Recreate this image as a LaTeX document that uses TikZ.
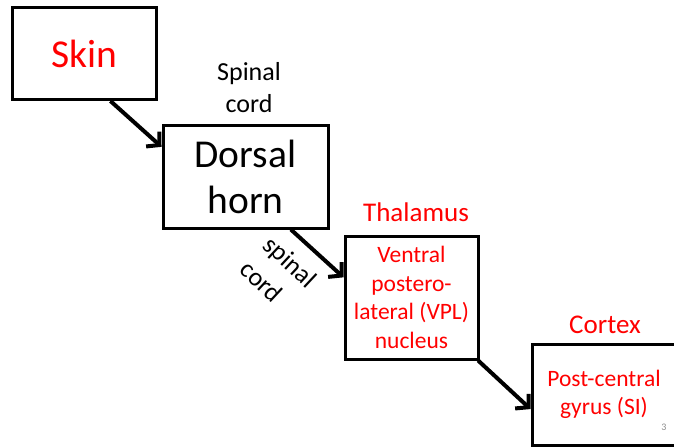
\documentclass[tikz,border=0pt]{standalone}
\usepackage{fontspec}
\setmainfont{Carlito}
\usetikzlibrary{arrows.meta,calc}
\definecolor{pptred}{RGB}{255,0,0}
\tikzset{
  box/.style={draw=black, line width=3pt, rectangle, inner sep=0pt, align=center},
  conn/.style={line width=4pt, -{Straight Barb[length=9pt,width=20pt,line width=4pt]}},
  lbl/.style={inner sep=0pt, align=center}
}
\begin{document}
\begin{tikzpicture}[x=1pt,y=-1pt]
\useasboundingbox (0,0) rectangle (674,447);
\clip (0,0) rectangle (674,447);
% boxes
\node[box, minimum width=144pt, minimum height=92pt, text=pptred, font=\fontsize{39.5}{46}\selectfont] (skin) at (84,53.5) {Skin};
\node[box, minimum width=165pt, minimum height=103pt, font=\fontsize{39.5}{46}\selectfont] (dorsal) at (245.5,176.5) {Dorsal\\horn};
\node[box, minimum width=133pt, minimum height=123pt, text=pptred, font=\fontsize{23.5}{28.5}\selectfont] (vpl) at (411.5,297.5) {Ventral\\postero-\\lateral (VPL)\\nucleus};
\node[box, minimum width=144pt, minimum height=101pt, text=pptred, font=\fontsize{23.5}{28.5}\selectfont] (cortex) at (604,394.5) {Post-central\\gyrus (SI)};
% labels
\node[lbl, font=\fontsize{26}{32}\selectfont] (sc1) at (249,88) {Spinal\\cord};
\node[lbl, text=pptred, font=\fontsize{27}{32}\selectfont] (thal) at (416,212) {Thalamus};
\node[lbl, text=pptred, font=\fontsize{27}{32}\selectfont] (ctx) at (605,325) {Cortex};
\node[lbl, align=left, rotate=-43, font=\fontsize{26}{34}\selectfont] (sc2) at (279,274) {spinal\\cord};
\node[lbl, text=black!45, font=\fontsize{10}{12}\selectfont] (pg) at (664,427) {3};
% connectors
\coordinate (a1) at ($(skin.south west)!0.68!(skin.south east)$);
\coordinate (b1) at ($(dorsal.north west)!0.22!(dorsal.south west)$);
\coordinate (a2) at ($(dorsal.south west)!0.77!(dorsal.south east)$);
\coordinate (b2) at ($(vpl.north west)!0.34!(vpl.south west)$);
\coordinate (a3) at ($(vpl.south west)!0.99!(vpl.south east)$);
\coordinate (b3) at ($(cortex.north west)!0.64!(cortex.south west)$);
\draw[conn] (a1) -- (b1);
\draw[conn] (a2) -- (b2);
\draw[conn] (a3) -- (b3);
\end{tikzpicture}
\end{document}
